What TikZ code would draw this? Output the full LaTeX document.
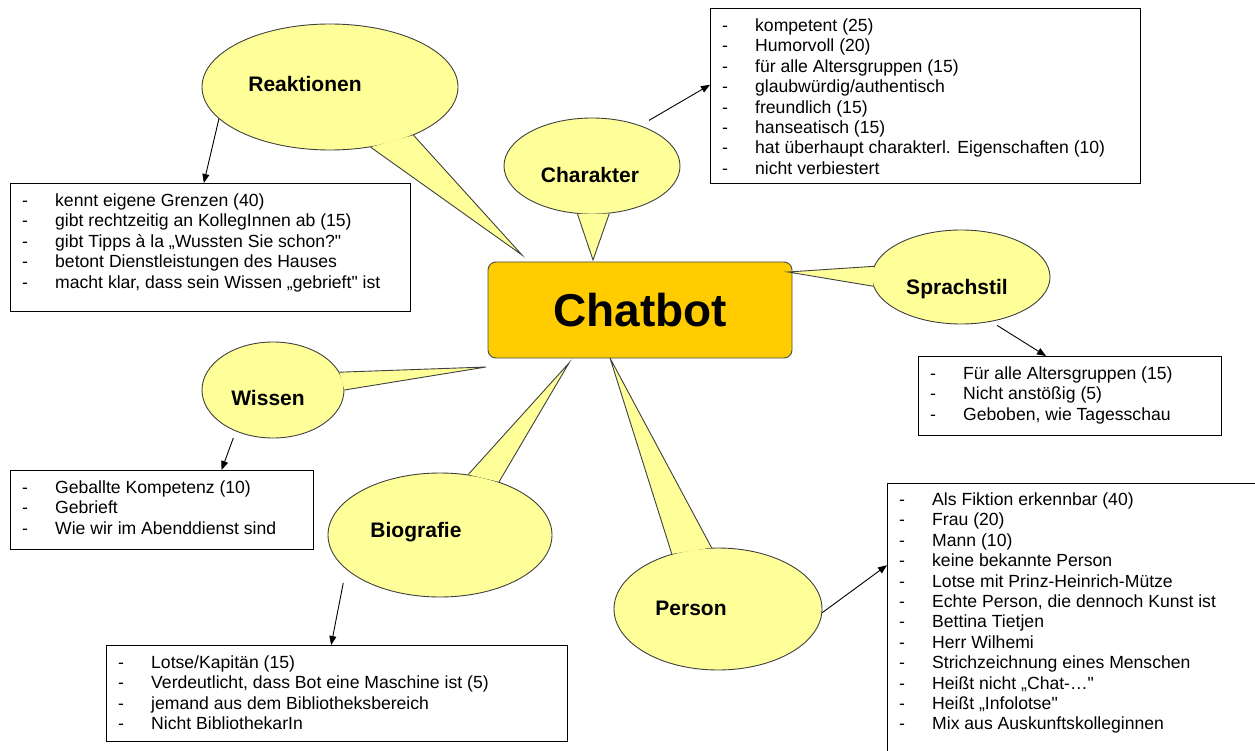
\documentclass[tikz,border=0pt]{standalone}
\usepackage{fontspec}
\setmainfont{Liberation Sans}
\newfontfamily\plainf{Liberation Sans}
\usetikzlibrary{shapes.geometric,arrows.meta}
\definecolor{bub}{HTML}{FFFF99}
\definecolor{gold}{HTML}{FFCC00}
\newcommand\itm[1]{\makebox[33pt][l]{-}#1\strut}
\newcommand\sq{{\plainf"}}
\begin{document}
\begin{tikzpicture}[x=1pt,y=-1pt,
  bubble/.style={ellipse, draw=black!75, fill=bub, line width=0.9pt, inner sep=0pt},
  tailline/.style={draw=black!75, line width=0.9pt, line join=miter},
  blabel/.style={font=\fontsize{21}{24}\selectfont\bfseries, inner sep=0pt},
  listbox/.style={draw=black, line width=1.2pt, fill=white, anchor=north west, inner sep=0pt},
  listtext/.style={anchor=north west, inner sep=0pt, align=left, font=\fontsize{17.6}{20.4}\selectfont},
  arr/.style={-{Triangle[length=9pt,width=7pt]}, line width=0.9pt},
]
\clip (0,0) rectangle (1255,751);
\fill[white] (0,0) rectangle (1255,751);

% central box
\node[draw=black!70, fill=gold, line width=0.9pt, rounded corners=8pt,
      minimum width=304pt, minimum height=96pt, inner sep=0pt,
      font=\fontsize{46}{50}\selectfont\bfseries] (chat) at (640,310) {Chatbot};

% tail tips
\coordinate (tipR) at (522,255);
\coordinate (tipC) at (593,260);
\coordinate (tipS) at (788,272);
\coordinate (tipW) at (486,367);
\coordinate (tipB) at (569,363);
\coordinate (tipP) at (610,358);

% Reaktionen bubble
\node[bubble, minimum width=256pt, minimum height=126pt] (reak) at (330,87) {};
\fill[bub] (reak.330) -- (tipR) -- (reak.304) -- cycle;
\draw[tailline] (reak.330) -- (tipR) -- (reak.304);
\node[blabel] (reakl) at (305,84) {Reaktionen};

% Charakter bubble
\node[bubble, minimum width=176pt, minimum height=96pt] (char) at (592,166) {};
\fill[bub] (char.253) -- (tipC) -- (char.290) -- cycle;
\draw[tailline] (char.253) -- (tipC) -- (char.290);
\node[blabel] (charl) at (590,175) {Charakter};

% Sprachstil bubble
\node[bubble, minimum width=178pt, minimum height=94pt] (spr) at (961,277) {};
\fill[bub] (spr.173) -- (tipS) -- (spr.186) -- cycle;
\draw[tailline] (spr.173) -- (tipS) -- (spr.186);
\node[blabel] (sprl) at (957,289) {Sprachstil};

% Wissen bubble
\node[bubble, minimum width=142pt, minimum height=96pt] (wis) at (273,390) {};
\fill[bub] (wis.15) -- (tipW) -- (wis.0) -- cycle;
\draw[tailline] (wis.15) -- (tipW) -- (wis.0);
\node[blabel] (wisl) at (268,398) {Wissen};

% Biografie bubble
\node[bubble, minimum width=224pt, minimum height=124pt] (bio) at (440,535) {};
\fill[bub] (bio.65) -- (tipB) -- (bio.42) -- cycle;
\draw[tailline] (bio.65) -- (tipB) -- (bio.42);
\node[blabel] (biol) at (416,532) {Biografie};

% Person bubble
\node[bubble, minimum width=208pt, minimum height=122pt] (pers) at (718,609) {};
\fill[bub] (pers.130) -- (tipP) -- (pers.96) -- cycle;
\draw[tailline] (pers.130) -- (tipP) -- (pers.96);
\node[blabel] (persl) at (691,608) {Person};

% list boxes
\node[listbox, minimum width=400pt, minimum height=128pt] (rbox) at (10,183) {};
\node[listtext] (rtext) at (22,192) {%
\itm{kennt eigene Grenzen (40)}\\
\itm{gibt rechtzeitig an KollegInnen ab (15)}\\
\itm{gibt Tipps à la „Wussten Sie schon?\sq}\\
\itm{betont Dienstleistungen des Hauses}\\
\itm{macht klar, dass sein Wissen „gebrieft\sq{} ist}};

\node[listbox, minimum width=430pt, minimum height=175pt] (cbox) at (710,8) {};
\node[listtext] (ctext) at (722,17) {%
\itm{kompetent (25)}\\
\itm{Humorvoll (20)}\\
\itm{für alle Altersgruppen (15)}\\
\itm{glaubwürdig/authentisch}\\
\itm{freundlich (15)}\\
\itm{hanseatisch (15)}\\
\itm{hat überhaupt charakterl. Eigenschaften (10)}\\
\itm{nicht verbiestert}};

\node[listbox, minimum width=303pt, minimum height=79pt] (sbox) at (918,356) {};
\node[listtext] (stext) at (930,365) {%
\itm{Für alle Altersgruppen (15)}\\
\itm{Nicht anstößig (5)}\\
\itm{Geboben, wie Tagesschau}};

\node[listbox, minimum width=303pt, minimum height=79pt] (wbox) at (10,470) {};
\node[listtext] (wtext) at (22,479) {%
\itm{Geballte Kompetenz (10)}\\
\itm{Gebrieft}\\
\itm{Wie wir im Abenddienst sind}};

\node[listbox, minimum width=461pt, minimum height=96pt] (bbox) at (106,645) {};
\node[listtext] (btext) at (118,654) {%
\itm{Lotse/Kapitän (15)}\\
\itm{Verdeutlicht, dass Bot eine Maschine ist (5)}\\
\itm{jemand aus dem Bibliotheksbereich}\\
\itm{Nicht BibliothekarIn}};

\node[listbox, minimum width=380pt, minimum height=287pt] (pbox) at (887,483) {};
\node[listtext] (ptext) at (899,491) {%
\itm{Als Fiktion erkennbar (40)}\\
\itm{Frau (20)}\\
\itm{Mann (10)}\\
\itm{keine bekannte Person}\\
\itm{Lotse mit Prinz-Heinrich-Mütze}\\
\itm{Echte Person, die dennoch Kunst ist}\\
\itm{Bettina Tietjen}\\
\itm{Herr Wilhemi}\\
\itm{Strichzeichnung eines Menschen}\\
\itm{Heißt nicht „Chat-…\sq}\\
\itm{Heißt „Infolotse\sq}\\
\itm{Mix aus Auskunftskolleginnen}};

% connectors
\draw[arr] (reak.196) -- (rbox.96);
\draw[arr, shorten <=10pt] (char.40) -- (cbox.177.7);
\draw[arr, shorten <=7pt] (spr.304) -- (sbox.121.8);
\draw[arr, shorten <=7pt] (wis.228) -- (wbox.34.5);
\draw[arr, shorten <=14pt] (bio.200) -- (bbox.97.7);
\draw[arr] (pers.358) -- (pbox.162.6);
\end{tikzpicture}
\end{document}
